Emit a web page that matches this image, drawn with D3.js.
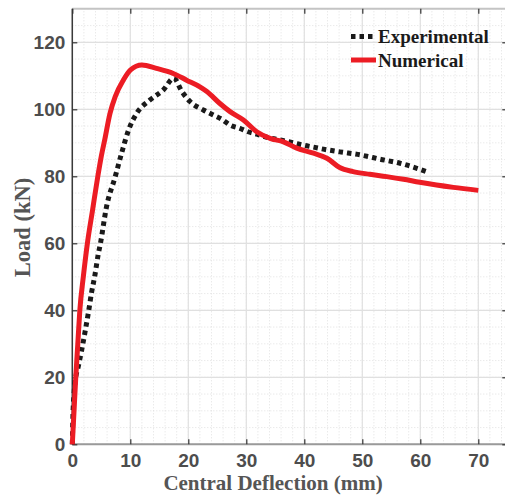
<!DOCTYPE html>
<html lang="en">
<head>
<meta charset="UTF-8">
<title>Load vs Central Deflection</title>
<script src="https://d3js.org/d3.v7.min.js"></script>
<style>
  body { margin: 0; background: #fff; }
  svg { display: block; font-family: "Liberation Serif", "DejaVu Serif", serif; font-weight: bold; }
  .tick text { fill: #4d4d4d; font-size: 19px; }
  .tick line { stroke: #333; stroke-width: 1.2; }
  .axis-title { fill: #555; font-size: 21px; }
  .legend text { fill: #1a1a1a; font-size: 19px; }
</style>
</head>
<body>
<svg width="505" height="501"></svg>
<script>
// numerical model curve
const numDeflection = [0, 0.3, 0.6, 0.95, 1.3, 1.9, 2.6, 3.5, 4.4, 5.0, 5.6, 6.5, 7.4, 8.8, 10.0, 12.0, 14.5, 17.4, 19.7, 22.0, 23.2, 25.4, 27.2, 29.5, 31.8, 34.1, 36.4, 38.7, 41.6, 43.9, 46.1, 48.4, 51.3, 54.2, 57.1, 59.9, 62.8, 65.7, 70.0];
const numLoad       = [0, 10, 20, 30, 40, 50, 60, 70, 80, 86, 91, 98.8, 103.8, 108.7, 111.7, 113.2, 112.2, 110.7, 108.7, 106.7, 105.3, 101.8, 99.3, 96.8, 93.3, 91.3, 90.3, 88.4, 86.9, 85.4, 82.6, 81.4, 80.6, 79.9, 79.1, 78.2, 77.4, 76.7, 75.8];

// experimental curve
const expDeflection = [0, 0.1, 0.3, 0.6, 1.0, 1.6, 2.2, 2.8, 3.3, 3.9, 4.5, 4.8, 5.9, 7.4, 8.5, 9.7, 11.1, 13.4, 15.7, 17.5, 18.9, 20.3, 22.6, 24.3, 25.8, 27.2, 28.9, 30.3, 31.8, 34.1, 36.3, 38.1, 39.8, 41.6, 43.3, 46.1, 49.6, 53.1, 56.5, 59.4, 61.1];
const expLoad       = [0, 8, 15, 20, 23, 28, 33.6, 39.6, 45.1, 50.5, 57, 59.5, 70.9, 79.9, 86.9, 93.8, 98.8, 102.8, 105.8, 109.3, 105.3, 102.3, 99.8, 98.3, 97.0, 95.3, 94.3, 93.3, 92.6, 91.4, 90.7, 90.0, 89.3, 88.7, 88.1, 87.3, 86.4, 85.1, 83.9, 82.4, 81.4];

const xTicks = [0, 10, 20, 30, 40, 50, 60, 70];
const yTicks = [0, 20, 40, 60, 80, 100, 120];
const xMinor = d3.range(0, 76, 2);
const yMinor = d3.range(0, 131, 5);

const seriesNames = ["Experimental", "Numerical"];

const svg = d3.select("svg");
const x = d3.scaleLinear().domain([0, 75]).range([72.3, 507.3]);
const y = d3.scaleLinear().domain([0, 130]).range([444.3, 8.8]);

const [x0, x1] = x.range();
const [y0, y1] = y.range();

// minor grid
svg.append("g").selectAll("line").data(xMinor).enter().append("line")
  .attr("x1", d => x(d)).attr("x2", d => x(d)).attr("y1", y0).attr("y2", y1)
  .attr("stroke", "#d9d9d9").attr("stroke-width", 0.8).attr("stroke-dasharray", "1,2");
svg.append("g").selectAll("line").data(yMinor).enter().append("line")
  .attr("y1", d => y(d)).attr("y2", d => y(d)).attr("x1", x0).attr("x2", x1)
  .attr("stroke", "#d9d9d9").attr("stroke-width", 0.8).attr("stroke-dasharray", "1,2");

// major grid
svg.append("g").selectAll("line").data(xTicks).enter().append("line")
  .attr("x1", d => x(d)).attr("x2", d => x(d)).attr("y1", y0).attr("y2", y1)
  .attr("stroke", "#e0e0e0").attr("stroke-width", 1.2);
svg.append("g").selectAll("line").data(yTicks).enter().append("line")
  .attr("y1", d => y(d)).attr("y2", d => y(d)).attr("x1", x0).attr("x2", x1)
  .attr("stroke", "#e0e0e0").attr("stroke-width", 1.2);

// box
svg.append("line").attr("x1", x0).attr("x2", x1).attr("y1", y1).attr("y2", y1)
  .attr("stroke", "#c4c4c4").attr("stroke-width", 2);
svg.append("line").attr("x1", x1).attr("x2", x1).attr("y1", y0).attr("y2", y1)
  .attr("stroke", "#c4c4c4").attr("stroke-width", 2);
svg.append("line").attr("x1", x0).attr("x2", x1).attr("y1", y0).attr("y2", y0)
  .attr("stroke", "#9a9a9a").attr("stroke-width", 2);
svg.append("line").attr("x1", x0).attr("x2", x0).attr("y1", y0).attr("y2", y1)
  .attr("stroke", "#3a3a3a").attr("stroke-width", 1.5);

// axes with inward ticks
svg.append("g").attr("transform", `translate(0,${y0})`)
  .call(d3.axisBottom(x).tickValues(xTicks).tickSize(-5).tickPadding(9).tickFormat(d3.format("d")));
svg.append("g").attr("transform", `translate(${x0},0)`)
  .call(d3.axisLeft(y).tickValues(yTicks).tickSize(-5).tickPadding(7).tickFormat(d3.format("d")));
svg.append("g").attr("transform", `translate(0,${y1})`)
  .call(d3.axisTop(x).tickValues(xTicks).tickSize(-5).tickFormat(""));
svg.append("g").attr("transform", `translate(${x1},0)`)
  .call(d3.axisRight(y).tickValues(yTicks).tickSize(-5).tickFormat(""));
svg.selectAll(".domain").remove();

// curves
const line = d3.line().x(d => x(d[0])).y(d => y(d[1])).curve(d3.curveMonotoneX);

const expPts = expDeflection.map((d, i) => [d, expLoad[i]]);
const numPts = numDeflection.map((d, i) => [d, numLoad[i]]);

svg.append("path").datum(expPts)
  .attr("fill", "none").attr("stroke", "#1a1a1a").attr("stroke-width", 5)
  .attr("stroke-dasharray", "4.5,4").attr("d", line);

svg.append("path").datum(numPts)
  .attr("fill", "none").attr("stroke", "#ec1c24").attr("stroke-width", 5)
  .attr("stroke-linejoin", "round").attr("d", line);

// axis titles
svg.append("text").attr("class", "axis-title")
  .attr("x", 273).attr("y", 490).attr("text-anchor", "middle")
  .text("Central Deflection (mm)");
svg.append("text").attr("class", "axis-title")
  .attr("transform", "translate(30,227.5) rotate(-90)").attr("text-anchor", "middle")
  .style("font-size", "22.5px")
  .text("Load (kN)");

// legend
const legend = svg.append("g").attr("class", "legend");
const legendStyle = [
  { color: "#1a1a1a", dash: "4.5,4", y: 36.5 },
  { color: "#ec1c24", dash: null, y: 60 }
];
seriesNames.forEach((name, i) => {
  const s = legendStyle[i];
  legend.append("line")
    .attr("x1", 351).attr("x2", 376).attr("y1", s.y).attr("y2", s.y)
    .attr("stroke", s.color).attr("stroke-width", 5)
    .attr("stroke-dasharray", s.dash);
  legend.append("text").attr("x", 378).attr("y", s.y + 6.5).text(name);
});
</script>
</body>
</html>
